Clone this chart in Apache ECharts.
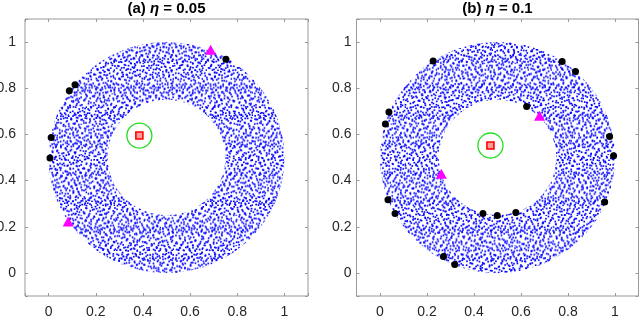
<!DOCTYPE html>
<html><head><meta charset="utf-8">
<script src="https://cdn.jsdelivr.net/npm/echarts@6/dist/echarts.min.js"></script>
<style>html,body{margin:0;padding:0;background:#fff}#c{width:640px;height:317px}</style>
</head><body><div id="c"></div>
<script>
// ---- data ----
const panelTags = ['(a)', '(b)'];
const etaValues = ['0.05', '0.1'];
const tickValues = [0, 0.2, 0.4, 0.6, 0.8, 1];
const tickLabels = ['0', '0.2', '0.4', '0.6', '0.8', '1'];
// annulus of sampled points: [centerX, centerY, innerRadius, outerRadius]
const annulusA = [0.5, 0.5, 0.25, 0.5];
const annulusB = [0.5, 0.5, 0.25, 0.5];
const targetA = [0.385, 0.595];
const targetB = [0.47, 0.552];
const blackA = [[0.752, 0.926], [0.112, 0.815], [0.088, 0.789], [0.011, 0.587], [0.006, 0.498]];
const magentaA = [[0.687, 0.967], [0.083, 0.223]];
const blackB = [[0.226, 0.918], [0.775, 0.916], [0.832, 0.873], [0.038, 0.697], [0.023, 0.645],
  [0.624, 0.721], [0.977, 0.591], [0.994, 0.508], [0.034, 0.317], [0.064, 0.257], [0.438, 0.257],
  [0.499, 0.249], [0.578, 0.262], [0.956, 0.307], [0.270, 0.071], [0.318, 0.036]];
const magentaB = [[0.679, 0.681], [0.261, 0.430]];

// ---- style: dotted texture tiles for the dense point cloud ----
const tileDotsA = [[1.2,2.5],[6.7,0.8],[11.3,3.1],[16.8,1.6],[20.4,4.2],[3.5,6.9],[8.9,8.2],[14.1,6.4],[18.6,9.7],[0.4,11.8],[5.8,13.3],[10.6,11.5],[15.3,14.6],[21.2,13.1],[2.9,17.4],[8.1,18.9],[12.7,16.8],[17.9,19.3],[21.6,21.4],[4.6,21.2],[10.2,21.6],[14.8,20.7],[19.5,16.4],[7.3,4.6]];
const tileDotsB = [[2.1,1.3],[7.6,3.8],[12.4,0.6],[17.9,2.9],[23.3,1.7],[27.1,5.2],[4.8,7.1],[10.1,8.6],[15.7,6.3],[20.6,9.4],[25.8,10.8],[0.9,12.5],[6.3,13.9],[12.9,12.1],[18.2,14.7],[23.1,15.9],[27.6,18.3],[3.4,18.8],[9.2,19.6],[14.6,17.9],[20.4,20.2],[25.5,23.1],[1.7,24.4],[6.8,25.7],[11.5,23.6],[16.9,25.9],[22.3,27.1],[27.2,27.4],[4.2,27.6],[9.9,27.5],[14.2,27.3],[19.3,23.8],[8.4,0.2],[26.4,0.3],[17.0,10.9],[11.0,16.5]];
const tileDotsC = [[3.3,4.1],[9.7,2.2],[15.2,5.5],[22.8,3.4],[28.1,7.7],[1.6,9.9],[7.2,12.6],[13.5,10.3],[19.9,12.9],[25.3,14.2],[4.4,16.1],[11.8,18.4],[17.1,16.7],[23.6,19.8],[29.0,21.5],[2.7,22.9],[8.5,24.8],[14.9,23.1],[20.6,26.2],[26.7,27.9],[5.9,29.3],[12.2,28.6],[18.4,30.1],[24.1,0.9],[0.6,0.4],[16.3,21.0],[27.9,12.0],[10.4,6.9]];
function makeTile(size, dots) {
  const c = document.createElement('canvas');
  c.width = size; c.height = size;
  const g = c.getContext('2d');
  g.fillStyle = '#0000ff';
  dots.forEach(d => g.fillRect(d[0], d[1], 1.7, 1.7));
  return c;
}
const tiles = [makeTile(23, tileDotsA), makeTile(29, tileDotsB), makeTile(31, tileDotsC)];

const FONT = "'Liberation Sans', Arial, Helvetica, sans-serif";
const AX = '#999999';
const TXT = '#262626';
const grids = [
  { left: 25, top: 19, width: 283, height: 277 },
  { left: 356.5, top: 19, width: 282, height: 277 }
];
const labelMargins = [9, 5];

function fmt(v) {
  for (let i = 0; i < tickValues.length; i++) if (Math.abs(v - tickValues[i]) < 1e-6) return tickLabels[i];
  return '';
}
function mkAxis(gi, pos, showLabel, margin) {
  return {
    type: 'value', gridIndex: gi, position: pos, min: -0.1, max: 1.1, splitNumber: 6,
    splitLine: { show: false },
    axisLine: { show: false, onZero: false },
    axisTick: { show: true, inside: true, length: 3, lineStyle: { color: AX, width: 1 } },
    axisLabel: { show: showLabel, formatter: fmt, color: TXT, fontSize: 14, fontFamily: FONT, margin: margin, hideOverlap: false }
  };
}
const xAxes = [], yAxes = [];
grids.forEach((g, i) => {
  xAxes.push(mkAxis(i, 'bottom', true, 9));
  xAxes.push(mkAxis(i, 'top', false, 8));
  yAxes.push(mkAxis(i, 'left', true, labelMargins[i]));
  yAxes.push(mkAxis(i, 'right', false, 8));
});

function annulusSeries(gi, ann) {
  return {
    type: 'custom', xAxisIndex: gi * 2, yAxisIndex: gi * 2, silent: true, z: 1,
    data: [ann],
    renderItem: function (params, api) {
      const c = api.coord([api.value(0), api.value(1)]);
      const so = api.size([api.value(3), api.value(3)]);
      const si = api.size([api.value(2), api.value(2)]);
      const mk = (tile) => ({
        type: 'ring',
        shape: { cx: c[0], cy: c[1], r: so[0], r0: si[0] },
        scaleY: so[1] / so[0], originX: c[0], originY: c[1],
        style: { fill: { image: tile, repeat: 'repeat' }, stroke: null }
      });
      return { type: 'group', children: tiles.map(mk) };
    }
  };
}
function markerSeries(gi, target, black, magenta) {
  const xi = gi * 2, yi = gi * 2;
  return [
    { type: 'scatter', xAxisIndex: xi, yAxisIndex: yi, data: black, symbol: 'circle', symbolSize: 7,
      itemStyle: { color: '#000000', opacity: 1 }, z: 3, silent: true },
    { type: 'scatter', xAxisIndex: xi, yAxisIndex: yi, data: magenta, symbol: 'triangle', symbolSize: [11, 10],
      itemStyle: { color: '#ff00ff', opacity: 1 }, z: 3, silent: true },
    { type: 'scatter', xAxisIndex: xi, yAxisIndex: yi, data: [target], symbol: 'circle', symbolSize: 25,
      itemStyle: { color: 'rgba(0,0,0,0)', borderColor: '#22dd22', borderWidth: 1.3, opacity: 1 }, z: 3, silent: true },
    { type: 'scatter', xAxisIndex: xi, yAxisIndex: yi, data: [target], symbol: 'rect', symbolSize: 7,
      itemStyle: { color: '#ff9a9a', borderColor: '#ff0000', borderWidth: 1.6, opacity: 1 }, z: 4, silent: true }
  ];
}

const chart = echarts.init(document.getElementById('c'), null, { renderer: 'canvas' });
chart.setOption({
  animation: false,
  backgroundColor: '#ffffff',
  grid: grids.map(g => Object.assign({ show: true, borderColor: AX, borderWidth: 1, backgroundColor: 'transparent',
    containLabel: false, outerBoundsMode: 'none' }, g)),
  xAxis: xAxes,
  yAxis: yAxes,
  graphic: grids.map((g, i) => ({
    type: 'text', x: g.left + g.width / 2, y: 1,
    style: {
      text: '{t|' + panelTags[i] + ' }{e|η}{t| = ' + etaValues[i] + '}',
      textAlign: 'center', textVerticalAlign: 'top',
      rich: {
        t: { fontFamily: FONT, fontWeight: 'bold', fontSize: 15, fill: '#000000', color: '#000000' },
        e: { fontFamily: FONT, fontWeight: 'bold', fontStyle: 'italic', fontSize: 15, fill: '#000000', color: '#000000' }
      }
    }
  })),
  series: [
    annulusSeries(0, annulusA),
    annulusSeries(1, annulusB),
    ...markerSeries(0, targetA, blackA, magentaA),
    ...markerSeries(1, targetB, blackB, magentaB)
  ]
});
</script></body></html>
